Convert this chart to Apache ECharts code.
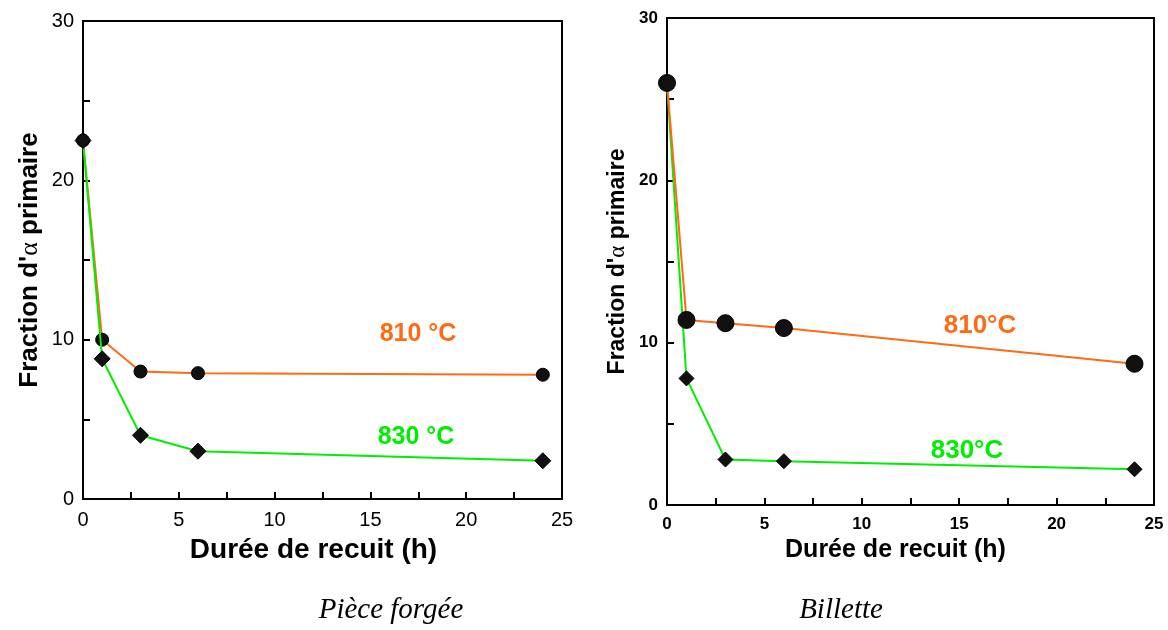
<!DOCTYPE html>
<html>
<head>
<meta charset="utf-8">
<script src="https://cdn.jsdelivr.net/npm/echarts@6/dist/echarts.min.js"></script>
<style>html,body{margin:0;padding:0;background:#fff}#c{width:1168px;height:630px}</style>
</head>
<body>
<div id="c"></div>
<script>
// ---- data ----
const hoursForge = [0, 1, 3, 6, 24];
const forge810 = [22.5, 10.0, 8.0, 7.9, 7.8];
const forge830 = [22.5, 8.8, 4.0, 3.0, 2.4];
const hoursBillette = [0, 1, 3, 6, 24];
const billette810 = [26.0, 11.4, 11.2, 10.9, 8.7];
const billette830 = [26.0, 7.8, 2.8, 2.7, 2.2];
const xTickLabels = ['0', '5', '10', '15', '20', '25'];
const yTickLabels = ['0', '10', '20', '30'];
const panelTitles = ['Pièce forgée', 'Billette'];
const seriesLabelsForge = ['810 °C', '830 °C'];
const seriesLabelsBillette = ['810°C', '830°C'];
const xTitle = 'Durée de recuit (h)';

const ORANGE = '#ff6a13';
const GREEN = '#00ee00';
const BLACK = '#000';

function pairs(xs, ys) { return xs.map((x, i) => [x, ys[i]]); }

function xAxisCfg(gi, bold, fs, nameFs, gap, pad) {
  return {
    gridIndex: gi, type: 'value', min: 0, max: 25, interval: 2.5,
    name: xTitle, nameLocation: 'middle', nameGap: gap,
    nameTextStyle: { fontFamily: 'Liberation Sans', fontWeight: 'bold', fontSize: nameFs, color: BLACK, padding: pad },
    axisLine: { show: true, onZero: false, lineStyle: { color: BLACK, width: 2 } },
    axisTick: { show: true, inside: true, length: 7, lineStyle: { color: BLACK, width: 2 } },
    axisLabel: {
      fontFamily: 'Liberation Sans', fontWeight: bold ? 'bold' : 'normal', fontSize: fs, color: BLACK, margin: 11,
      formatter: v => (Math.abs(v % 5) < 1e-9 ? xTickLabels[Math.round(v / 5)] : '')
    },
    splitLine: { show: false }
  };
}
function yAxisCfg(gi, bold, fs, nameFs, gap) {
  return {
    gridIndex: gi, type: 'value', min: 0, max: 30, interval: 5,
    name: "Fraction d'{a|α} primaire", nameLocation: 'middle', nameGap: gap, nameRotate: 90,
    nameTextStyle: {
      fontFamily: 'Liberation Sans', fontWeight: 'bold', fontSize: nameFs, color: BLACK,
      rich: { a: { fontFamily: 'Liberation Serif', fontWeight: 'normal', fontSize: nameFs, color: BLACK } }
    },
    axisLine: { show: true, onZero: false, lineStyle: { color: BLACK, width: 2 } },
    axisTick: { show: true, inside: true, length: 7, lineStyle: { color: BLACK, width: 2 } },
    axisLabel: {
      fontFamily: 'Liberation Sans', fontWeight: bold ? 'bold' : 'normal', fontSize: fs, color: BLACK, margin: 9,
      formatter: v => (Math.abs(v % 10) < 1e-9 ? yTickLabels[Math.round(v / 10)] : '')
    },
    splitLine: { show: false }
  };
}
function lineSeries(xi, data, color, symbol, size, z) {
  return {
    type: 'line', xAxisIndex: xi, yAxisIndex: xi, data: data, z: z,
    symbol: symbol, symbolSize: size, showSymbol: true,
    lineStyle: { color: color, width: 2 },
    itemStyle: { color: '#111', borderColor: '#000', borderWidth: 1 },
    emphasis: { disabled: true }, animation: false
  };
}
function txt(x, y, text, color, size, font, style, weight) {
  return {
    type: 'text', x: x, y: y, z: 100,
    style: { text: text, fill: color, font: (style || 'normal') + ' ' + (weight || 'bold') + ' ' + size + 'px ' + font, textAlign: 'center', textVerticalAlign: 'middle' }
  };
}

const chart = echarts.init(document.getElementById('c'), null, { renderer: 'canvas' });
chart.setOption({
  backgroundColor: '#fff',
  animation: false,
  grid: [
    { left: 83, top: 21, width: 479, height: 478, show: true, borderColor: BLACK, borderWidth: 2, backgroundColor: 'transparent' },
    { left: 667, top: 18, width: 487, height: 487, show: true, borderColor: BLACK, borderWidth: 2, backgroundColor: 'transparent' }
  ],
  xAxis: [
    xAxisCfg(0, false, 20, 28, 37, [0, 18, 0, 0]),
    xAxisCfg(1, true, 17, 25, 33, [0, 30, 0, 0])
  ],
  yAxis: [
    yAxisCfg(0, false, 20, 26, 40),
    yAxisCfg(1, true, 17, 23, 38)
  ],
  series: [
    lineSeries(0, pairs(hoursForge, forge810), ORANGE, 'circle', 13, 2),
    lineSeries(0, pairs(hoursForge, forge830), GREEN, 'diamond', 16, 3),
    lineSeries(1, pairs(hoursBillette, billette830), GREEN, 'diamond', 15, 2),
    lineSeries(1, pairs(hoursBillette, billette810), ORANGE, 'circle', 17, 3)
  ],
  graphic: [
    txt(418, 334, seriesLabelsForge[0], ORANGE, 25, 'Liberation Sans'),
    txt(416, 437, seriesLabelsForge[1], GREEN, 25, 'Liberation Sans'),
    txt(980, 326, seriesLabelsBillette[0], ORANGE, 26, 'Liberation Sans'),
    txt(967, 451, seriesLabelsBillette[1], GREEN, 26, 'Liberation Sans'),
    txt(391, 610, panelTitles[0], BLACK, 29, 'Liberation Serif', 'italic', 'normal'),
    txt(841, 610, panelTitles[1], BLACK, 29, 'Liberation Serif', 'italic', 'normal')
  ]
});
</script>
</body>
</html>
